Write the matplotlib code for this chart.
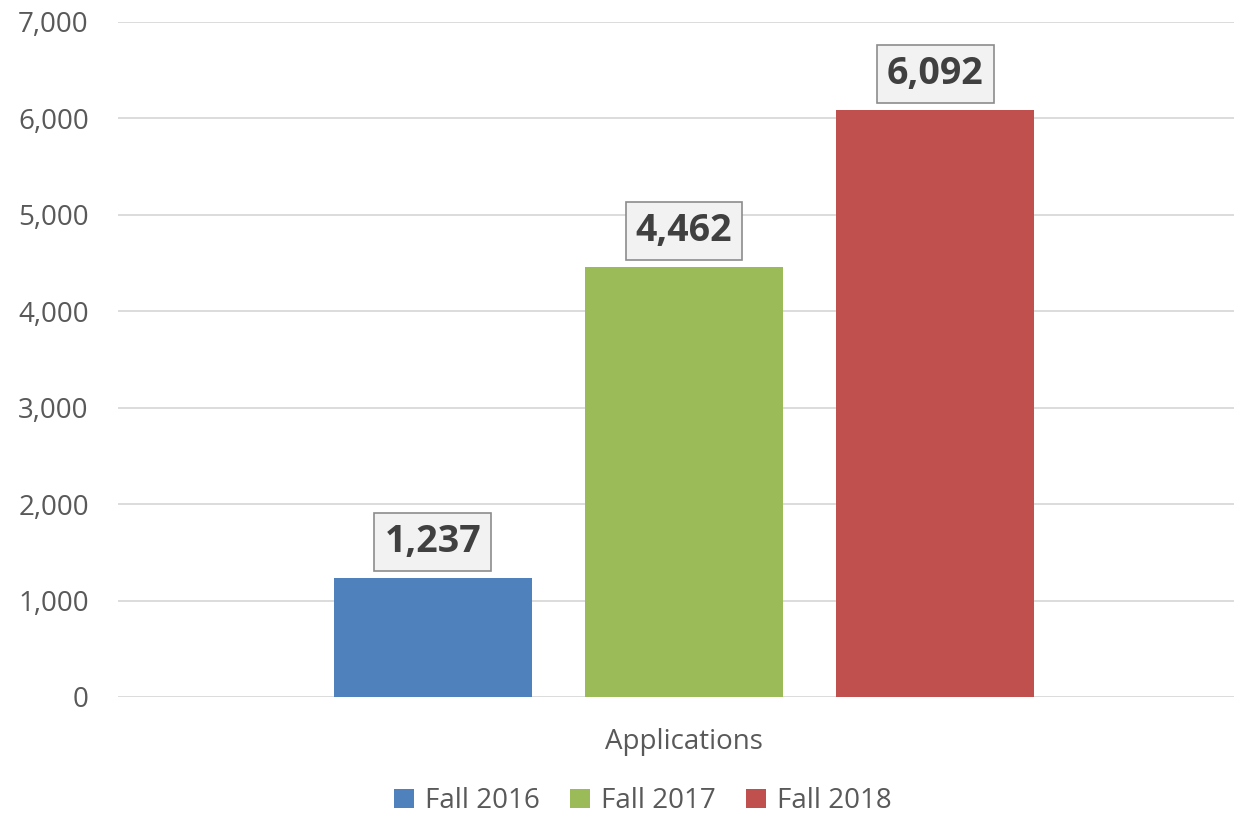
import numpy as np
import matplotlib
matplotlib.use("Agg")
import matplotlib.pyplot as plt

series = ["Fall 2016", "Fall 2017", "Fall 2018"]
values = [1237, 4462, 6092]
colors = ["#4f81bd", "#9bbb59", "#c0504d"]
category = "Applications"
yticks = [0, 1000, 2000, 3000, 4000, 5000, 6000, 7000]

plt.rcParams.update({"font.family": ["Open Sans", "DejaVu Sans"]})
GRAY = "#595959"

fig = plt.figure(figsize=(12.34, 8.13), dpi=100)
ax = fig.add_axes([0.0956, 0.1427, 0.9044, 0.8303])

x = np.arange(len(values)) - 1
bars = ax.bar(x, values, width=0.79, color=colors, label=series, zorder=3)
for xi, v in zip(x, values):
    ax.annotate(f"{v:,}", (xi, v), xytext=(0, 12), textcoords="offset points",
                ha="center", va="bottom", fontsize=27, fontweight="bold", color="#404040",
                bbox=dict(boxstyle="square,pad=0.27", fc="#f2f2f2", ec="#8c8c8c", lw=1.2))

ax.set_xlim(-2.255, 2.191)
ax.set_ylim(0, 7000)
ax.set_yticks(yticks)
ax.set_yticklabels([f"{t:,}" for t in yticks])
ax.set_xticks([0])
ax.set_xticklabels([category])
ax.tick_params(axis="both", length=0, labelsize=20, colors=GRAY)
ax.tick_params(axis="y", pad=21)
ax.tick_params(axis="x", pad=22)
ax.grid(axis="y", color="#d9d9d9", lw=1.3, zorder=0)
for s in ax.spines.values():
    s.set_visible(False)

ax.legend(loc="upper center", bbox_to_anchor=(0.4704, -0.109), ncol=3, frameon=False,
          fontsize=20, labelcolor=GRAY, handlelength=0.7, handleheight=0.7,
          handletextpad=0.4, columnspacing=1.1, borderaxespad=0.2)

fig.savefig("out.png")
